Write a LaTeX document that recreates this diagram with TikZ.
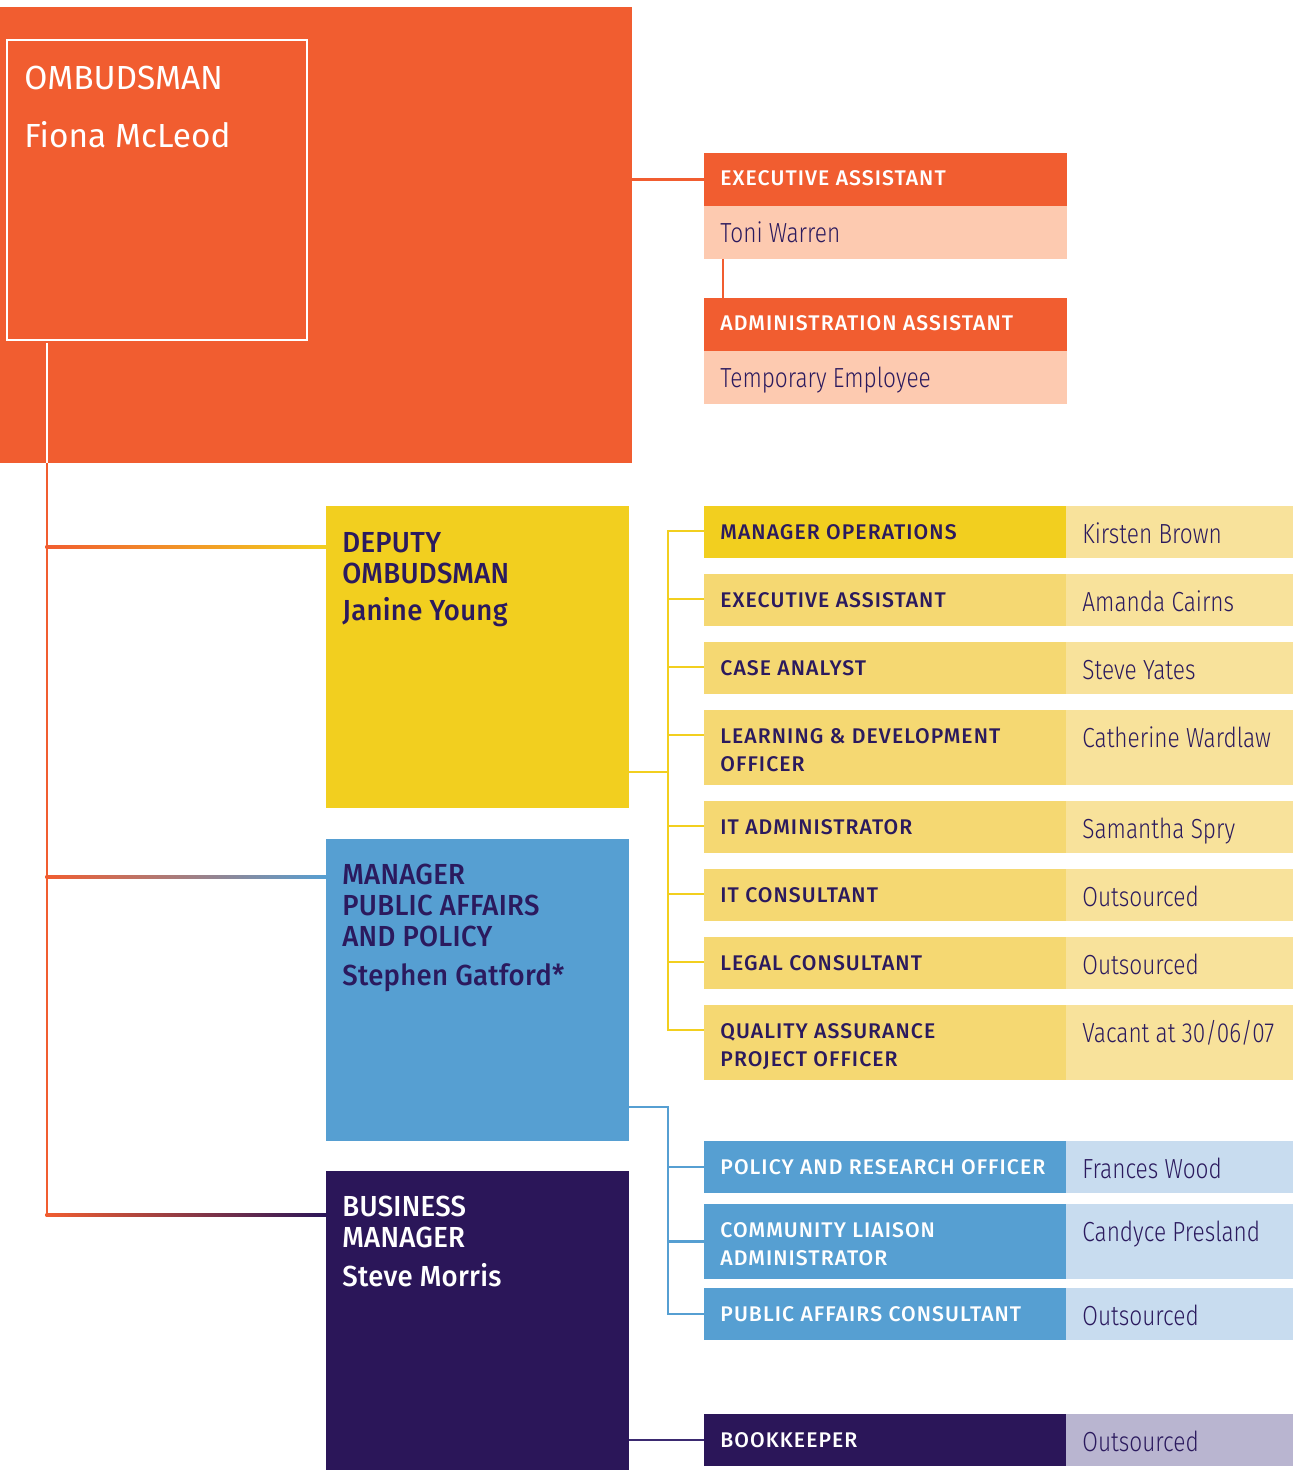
\documentclass[tikz,border=0pt]{standalone}
\usepackage{fontspec}
\setmainfont{Fira Sans}
\newfontfamily\labfont{Fira Sans}[UprightFont=* Medium,LetterSpace=5]
\newfontfamily\headfont{Fira Sans}[UprightFont=* Medium,LetterSpace=1,FakeStretch=0.95]
\newfontfamily\whofont{Fira Sans}[UprightFont=* Light,FakeStretch=0.82]
\usetikzlibrary{positioning,calc}
\definecolor{ombOrange}{HTML}{F15D30}
\definecolor{peach}{HTML}{FDCAB0}
\definecolor{depYellow}{HTML}{F2CF1F}
\definecolor{rowYellow}{HTML}{F5D872}
\definecolor{whoYellow}{HTML}{F8E29B}
\definecolor{mpaBlue}{HTML}{569FD2}
\definecolor{whoBlue}{HTML}{C8DCEF}
\definecolor{bmPurple}{HTML}{2B1659}
\definecolor{whoPurple}{HTML}{B9B5D0}
\definecolor{txtPurple}{HTML}{2B1A5E}
\definecolor{bkLine}{HTML}{3B2A70}
% lines stacked from the first baseline
\newcommand{\tstack}[1]{\begin{tabular}[t]{@{}l@{}}#1\end{tabular}}

\begin{document}
\begin{tikzpicture}[x=0.5pt,y=-0.5pt,
  box/.style={anchor=north west,inner sep=0,outer sep=0,minimum width=151.5pt,minimum height=151pt},
  cell/.style={anchor=north west,inner sep=0,outer sep=0,minimum width=181pt,minimum height=26pt},
  whocell/.style={anchor=north west,inner sep=0,outer sep=0,minimum width=113.5pt,minimum height=26pt},
  lab/.style={anchor=base west,inner sep=0,font=\labfont\fontsize{10.6}{14}\selectfont},
  who/.style={anchor=base west,inner sep=0,text=txtPurple,font=\whofont\fontsize{13.8}{16}\selectfont},
  head/.style={anchor=base west,inner sep=0,font=\headfont\fontsize{14.5}{15.5}\selectfont},
  link/.style={line width=1.4pt}]
\useasboundingbox (0,0) rectangle (1293,1470);
% ombudsman
\node[box,fill=ombOrange,minimum width=316pt,minimum height=228pt] (omb) at (0,7) {};
\node[box,draw=white,line width=1pt,minimum width=150pt,minimum height=150pt] (ombin) at (7,40) {};
\node[anchor=base west,inner sep=0,text=white,font=\fontsize{16.7}{29}\selectfont] (ombtxt) at (24,90) {\tstack{OMBUDSMAN\\Fiona McLeod}};
% assistants
\node[cell,fill=ombOrange,minimum width=181.5pt,minimum height=26.5pt] (eahd) at (704,153) {};
\node[lab,text=white] (eahdt) at ([xshift=8pt,yshift=-16.5pt]eahd.north west) {EXECUTIVE ASSISTANT};
\node[cell,fill=peach,minimum width=181.5pt,minimum height=26.5pt] (eanm) at (704,206) {};
\node[who] (eanmt) at ([xshift=8pt,yshift=-18.5pt]eanm.north west) {Toni Warren};
\node[cell,fill=ombOrange,minimum width=181.5pt,minimum height=26.5pt] (aahd) at (704,298) {};
\node[lab,text=white] (aahdt) at ([xshift=8pt,yshift=-16.5pt]aahd.north west) {ADMINISTRATION ASSISTANT};
\node[cell,fill=peach,minimum width=181.5pt,minimum height=26.5pt] (aanm) at (704,351) {};
\node[who] (aanmt) at ([xshift=8pt,yshift=-18.5pt]aanm.north west) {Temporary Employee};
\draw[link,ombOrange] (omb.east |- eahd.west) -- (eahd.west);
\draw[link,ombOrange] ([xshift=9.5pt]eanm.south west) -- ([xshift=9.5pt]aahd.north west);
% managers
\node[box,fill=depYellow] (dep) at (326,506) {};
\node[head,text=txtPurple] (dept) at (342,552) {\tstack{DEPUTY\\OMBUDSMAN\\[2.5pt]Janine Young}};
\node[box,fill=mpaBlue] (mpa) at (326,839) {};
\node[head,text=txtPurple] (mpat) at (342,884) {\tstack{MANAGER\\PUBLIC AFFAIRS\\AND POLICY\\[4pt]Stephen Gatford*}};
\node[box,fill=bmPurple,minimum height=149.5pt] (bm) at (326,1171) {};
\node[head,text=white] (bmt) at (342,1216) {\tstack{BUSINESS\\MANAGER\\[3.5pt]Steve Morris}};
% trunk
\coordinate (trk) at ([xshift=20pt]ombin.south west);
\coordinate (jd) at ([yshift=-20.5pt]dep.north west);
\coordinate (jm) at ([yshift=-19pt]mpa.north west);
\coordinate (jb) at ([yshift=-22pt]bm.north west);
\draw[link,white] ([yshift=-1.5pt]trk) -- (trk |- omb.south);
\draw[link,ombOrange] (trk |- omb.south) -- ($(trk |- jb)+(0,-0.7pt)$);
\shade[left color=ombOrange,right color=depYellow] ($(trk |- jd)+(-0.7pt,-0.7pt)$) rectangle ($(jd)+(0,0.7pt)$);
\shade[left color=ombOrange,right color=mpaBlue] ($(trk |- jm)+(-0.7pt,-0.7pt)$) rectangle ($(jm)+(0,0.7pt)$);
\shade[left color=ombOrange,right color=bmPurple] ($(trk |- jb)+(-0.7pt,-0.7pt)$) rectangle ($(jb)+(0,0.7pt)$);
% deputy team
\foreach \i/\top/\hh/\fc/\lab/\who in {1/506/52/depYellow/MANAGER OPERATIONS/Kirsten Brown,
  2/574/52/rowYellow/EXECUTIVE ASSISTANT/Amanda Cairns,
  3/642/52/rowYellow/CASE ANALYST/Steve Yates,
  4/710/75/rowYellow/{LEARNING \& DEVELOPMENT\\OFFICER}/Catherine Wardlaw,
  5/801/52/rowYellow/IT ADMINISTRATOR/Samantha Spry,
  6/869/52/rowYellow/IT CONSULTANT/Outsourced,
  7/937/52/rowYellow/LEGAL CONSULTANT/Outsourced,
  8/1005/75/rowYellow/{QUALITY ASSURANCE\\PROJECT OFFICER}/{Vacant at 30/06/07}}{
  \node[cell,fill=\fc,minimum height={\hh*0.5pt}] (y\i) at (704,\top) {};
  \node[whocell,fill=whoYellow,minimum height={\hh*0.5pt}] (w\i) at (y\i.north east) {};
  \node[lab,text=txtPurple] (yt\i) at ([xshift=8pt,yshift=-16.5pt]y\i.north west) {\tstack{\lab}};
  \node[who] (wt\i) at ([xshift=8pt,yshift=-18.5pt]w\i.north west) {\who};
  \coordinate (yb\i) at ([yshift=-12.5pt]y\i.north west);}
\coordinate (dj) at ([yshift=18pt]dep.south east);
\draw[link,depYellow] (dj) -- ++(19.5pt,0) coordinate (ybus);
\draw[link,depYellow] (yb1) -| (ybus |- yb8) -- (yb8);
\foreach \i in {2,...,7}
  \draw[link,depYellow] (ybus |- yb\i) -- (yb\i);
% public affairs team
\foreach \i/\top/\hh/\lab/\who in {1/1141/52/POLICY AND RESEARCH OFFICER/Frances Wood,
  2/1204/75/{COMMUNITY LIAISON\\ADMINISTRATOR}/Candyce Presland,
  3/1288/52/PUBLIC AFFAIRS CONSULTANT/Outsourced}{
  \node[cell,fill=mpaBlue,minimum height={\hh*0.5pt}] (b\i) at (704,\top) {};
  \node[whocell,fill=whoBlue,minimum height={\hh*0.5pt}] (v\i) at (b\i.north east) {};
  \node[lab,text=white] (bt\i) at ([xshift=8pt,yshift=-16.5pt]b\i.north west) {\tstack{\lab}};
  \node[who] (vt\i) at ([xshift=8pt,yshift=-18.5pt]v\i.north west) {\who};}
\coordinate (mj) at ([yshift=17pt]mpa.south east);
\draw[link,mpaBlue] (mj) -- ++(19.5pt,0) coordinate (bbus) |- (b3.west);
\draw[link,mpaBlue] (bbus |- b1.west) -- (b1.west);
\draw[link,mpaBlue] (bbus |- b2.west) -- (b2.west);
% bookkeeper
\node[cell,fill=bmPurple] (bk) at (704,1414) {};
\node[whocell,fill=whoPurple] (bkw) at (bk.north east) {};
\node[lab,text=white] (bkt) at ([xshift=8pt,yshift=-16.5pt]bk.north west) {BOOKKEEPER};
\node[who] (bkwt) at ([xshift=8pt,yshift=-18.5pt]bkw.north west) {Outsourced};
\draw[link,bkLine] (bm.east |- bk.west) -- (bk.west);
\end{tikzpicture}
\end{document}
